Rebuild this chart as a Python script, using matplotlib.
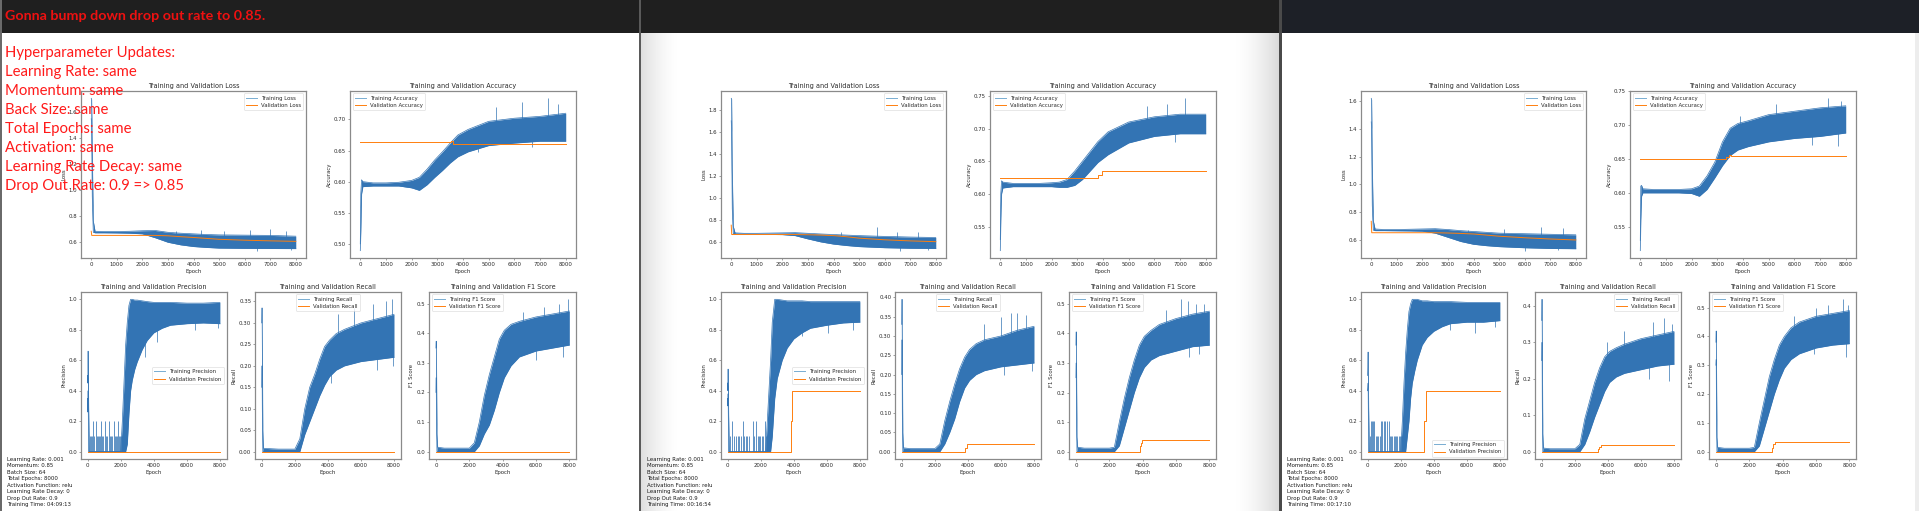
import numpy as np
import matplotlib
matplotlib.use("Agg")
import matplotlib.pyplot as plt
from matplotlib.lines import Line2D
from matplotlib.patches import Rectangle

# ---------------- data ----------------
EP_LOSS = [0, 15, 40, 80, 150, 500, 1000, 1500, 2000, 2500, 3000, 3500, 4000, 4500, 5000, 6000, 7000, 8000]
EP_VLOSS = [0, 20, 2500, 3000, 3500, 4000, 4500, 5000, 6000, 7000, 8000]
EP_ACC = [0, 20, 50, 100, 500, 1000, 1500, 2000, 2300, 2600, 2900, 3200, 3500, 3800, 4200, 5000, 6000, 7000, 8000]
EP_PREC = [0, 15, 30, 60, 100, 2000, 2100, 2200, 2300, 2400, 2500, 2600, 2700, 2850, 3000, 3300, 3600, 4000, 4500, 5000, 6000, 7000, 8000]
EP_REC = [0, 15, 30, 60, 100, 500, 1000, 1500, 2000, 2300, 2600, 2900, 3200, 3500, 3800, 4100, 4500, 5000, 6000, 7000, 8000]

# panel 1
p1_loss_lo = [1.55, 1.50, 0.95, 0.672, 0.668, 0.668, 0.667, 0.665, 0.660, 0.630, 0.595, 0.575, 0.562, 0.555, 0.550, 0.548, 0.547, 0.546]
p1_loss_hi = [1.707, 1.70, 1.30, 0.76, 0.680, 0.678, 0.678, 0.680, 0.684, 0.686, 0.672, 0.665, 0.660, 0.655, 0.652, 0.650, 0.648, 0.642]
p1_loss_sp_ep = [3300, 4300, 5200, 6200, 7000, 7600, 6500, 7800]
p1_loss_sp = [0.685, 0.69, 0.685, 0.69, 0.70, 0.685, 0.53, 0.532]
p1_vloss = [0.68, 0.648, 0.648, 0.645, 0.638, 0.632, 0.625, 0.618, 0.611, 0.606, 0.602]

p1_acc_lo = [0.489, 0.52, 0.58, 0.592, 0.593, 0.593, 0.593, 0.590, 0.586, 0.595, 0.607, 0.618, 0.630, 0.640, 0.648, 0.658, 0.662, 0.665, 0.665]
p1_acc_hi = [0.50, 0.58, 0.603, 0.600, 0.598, 0.598, 0.599, 0.602, 0.607, 0.620, 0.635, 0.648, 0.662, 0.675, 0.684, 0.697, 0.702, 0.705, 0.710]
p1_acc_sp_ep = [5300, 6300, 7300, 7700, 4600, 6700]
p1_acc_sp = [0.72, 0.728, 0.734, 0.725, 0.647, 0.655]
p1_vacc_ep = [0, 3550, 3600, 8000]
p1_vacc = [0.664, 0.666, 0.661, 0.661]

p1_prec_lo = [0.35, 0.26, 0.40, 0.0, 0.0, 0.0, 0.0, 0.0, 0.0, 0.05, 0.25, 0.40, 0.47, 0.54, 0.59, 0.67, 0.73, 0.78, 0.81, 0.83, 0.84, 0.845, 0.84]
p1_prec_hi = [0.50, 0.45, 0.66, 0.30, 0.0, 0.0, 0.2, 0.45, 0.70, 0.85, 0.96, 1.0, 1.0, 0.995, 0.995, 0.99, 0.985, 0.98, 0.98, 0.98, 0.975, 0.975, 0.98]
p1_prec_sp_ep = [3500, 4200, 6500, 7900]
p1_prec_sp = [0.62, 0.72, 0.80, 0.81]
p1_comb_ep = [120, 200, 260, 340, 400, 480, 540, 600, 700, 760, 835, 900, 960, 1040, 1100, 1180, 1280, 1340,
              1420, 1500, 1570, 1640, 1700, 1760, 1830, 1900, 1960, 2030]
p1_comb = [0.1, 0.1, 0.1, 0.2, 0.1, 0.2, 0.1, 0.1, 0.1, 0.1, 0.2, 0.1, 0.1, 0.2, 0.1, 0.1, 0.2, 0.1,
           0.1, 0.1, 0.2, 0.1, 0.1, 0.1, 0.2, 0.1, 0.1, 0.1]
p1_vprec_ep = [0, 8000]
p1_vprec = [0.0, 0.0]

p1_rec_lo = [0.15, 0.20, 0.10, 0.0, 0.0, 0.0, 0.0, 0.0, 0.0, 0.0, 0.04, 0.07, 0.10, 0.13, 0.155, 0.175, 0.19, 0.20, 0.21, 0.215, 0.22]
p1_rec_hi = [0.30, 0.335, 0.25, 0.05, 0.008, 0.007, 0.006, 0.006, 0.006, 0.03, 0.10, 0.15, 0.18, 0.215, 0.245, 0.26, 0.275, 0.285, 0.30, 0.31, 0.32]
p1_rec_sp_ep = [4600, 5600, 6700, 7500, 7900, 4200, 7000, 7950]
p1_rec_sp = [0.32, 0.335, 0.345, 0.35, 0.355, 0.16, 0.19, 0.20]
p1_vrec_ep = [0, 8000]
p1_vrec = [0.0, 0.0]

p1_f1_lo = [0.20, 0.25, 0.10, 0.0, 0.0, 0.0, 0.0, 0.0, 0.0, 0.0, 0.02, 0.06, 0.09, 0.14, 0.20, 0.25, 0.29, 0.32, 0.34, 0.35, 0.36]
p1_f1_hi = [0.35, 0.373, 0.30, 0.06, 0.015, 0.012, 0.012, 0.012, 0.012, 0.03, 0.10, 0.19, 0.26, 0.32, 0.38, 0.41, 0.43, 0.44, 0.455, 0.465, 0.475]
p1_f1_sp_ep = [5200, 6500, 7400, 7950, 6000, 7600]
p1_f1_sp = [0.47, 0.49, 0.50, 0.5145, 0.31, 0.32]
p1_vf1_ep = [0, 8000]
p1_vf1 = [0.0, 0.0]

# panel 2
p2_loss_lo = [1.70, 1.60, 0.90, 0.672, 0.668, 0.668, 0.667, 0.666, 0.664, 0.655, 0.625, 0.598, 0.578, 0.565, 0.555, 0.545, 0.540, 0.538]
p2_loss_hi = [1.904, 1.90, 1.25, 0.74, 0.680, 0.676, 0.676, 0.678, 0.680, 0.682, 0.676, 0.670, 0.665, 0.660, 0.655, 0.648, 0.642, 0.638]
p2_loss_sp_ep = [4300, 5700, 6500, 7300, 6600, 7700]
p2_loss_sp = [0.69, 0.736, 0.69, 0.685, 0.518, 0.525]
p2_vloss = [0.75, 0.665, 0.665, 0.663, 0.660, 0.655, 0.645, 0.632, 0.617, 0.607, 0.600]

p2_acc_lo = [0.513, 0.56, 0.60, 0.609, 0.611, 0.611, 0.611, 0.611, 0.610, 0.610, 0.613, 0.622, 0.635, 0.648, 0.660, 0.678, 0.688, 0.692, 0.692]
p2_acc_hi = [0.53, 0.60, 0.62, 0.618, 0.616, 0.616, 0.616, 0.617, 0.618, 0.622, 0.635, 0.650, 0.665, 0.680, 0.695, 0.710, 0.718, 0.722, 0.722]
p2_acc_sp_ep = [5700, 6500, 7200, 6800]
p2_acc_sp = [0.735, 0.738, 0.7463, 0.68]
p2_vacc_ep = [0, 3800, 3950, 8000]
p2_vacc = [0.624, 0.629, 0.635, 0.635]

p2_prec_lo = [0.35, 0.30, 0.38, 0.0, 0.0, 0.0, 0.0, 0.0, 0.0, 0.0, 0.0, 0.0, 0.10, 0.35, 0.48, 0.60, 0.68, 0.74, 0.78, 0.81, 0.83, 0.845, 0.85]
p2_prec_hi = [0.45, 0.40, 0.542, 0.25, 0.0, 0.0, 0.0, 0.0, 0.0, 0.20, 0.40, 0.60, 0.85, 1.0, 1.0, 0.995, 0.99, 0.99, 0.99, 0.985, 0.985, 0.985, 0.985]
p2_prec_sp_ep = [4500, 6100, 7600]
p2_prec_sp = [0.76, 0.78, 0.80]
p2_comb_ep = [120, 265, 410, 500, 600, 700, 783, 930, 1000, 1100, 1200, 1300, 1510, 1600, 1740, 1830,
              1900, 1980, 2050, 2130, 2240, 2320]
p2_comb = [0.1, 0.2, 0.1, 0.1, 0.1, 0.1, 0.1, 0.2, 0.1, 0.1, 0.1, 0.1, 0.2, 0.1, 0.2, 0.1,
           0.1, 0.1, 0.1, 0.1, 0.2, 0.1]
p2_vprec_ep = [0, 3850, 3900, 8000]
p2_vprec = [0.0, 0.2, 0.4, 0.4]

p2_rec_lo = [0.20, 0.29, 0.10, 0.0, 0.0, 0.0, 0.0, 0.0, 0.0, 0.0, 0.02, 0.05, 0.085, 0.13, 0.165, 0.185, 0.20, 0.21, 0.22, 0.225, 0.23]
p2_rec_hi = [0.33, 0.395, 0.25, 0.05, 0.010, 0.008, 0.008, 0.008, 0.008, 0.02, 0.08, 0.13, 0.175, 0.215, 0.245, 0.265, 0.28, 0.29, 0.30, 0.315, 0.325]
p2_rec_sp_ep = [5000, 6000, 6600, 7000, 7500, 6200, 7900]
p2_rec_sp = [0.33, 0.35, 0.36, 0.36, 0.355, 0.20, 0.21]
p2_vrec_ep = [0, 3850, 3950, 8000]
p2_vrec = [0.0, 0.01, 0.021, 0.021]

p2_f1_lo = [0.25, 0.30, 0.12, 0.0, 0.0, 0.0, 0.0, 0.0, 0.0, 0.0, 0.02, 0.08, 0.14, 0.20, 0.25, 0.285, 0.31, 0.325, 0.34, 0.355, 0.36]
p2_f1_hi = [0.36, 0.405, 0.30, 0.05, 0.015, 0.012, 0.012, 0.012, 0.012, 0.015, 0.10, 0.18, 0.25, 0.31, 0.36, 0.39, 0.41, 0.43, 0.45, 0.465, 0.475]
p2_f1_sp_ep = [5400, 6300, 6700, 7200, 7700, 6800, 7400]
p2_f1_sp = [0.48, 0.515, 0.51, 0.50, 0.50, 0.32, 0.33]
p2_vf1_ep = [0, 3820, 3900, 3980, 8000]
p2_vf1 = [0.0, 0.02, 0.03, 0.041, 0.041]

# panel 3
p3_loss_lo = [1.45, 1.40, 0.85, 0.672, 0.668, 0.668, 0.667, 0.666, 0.664, 0.650, 0.620, 0.590, 0.570, 0.560, 0.553, 0.545, 0.540, 0.538]
p3_loss_hi = [1.619, 1.61, 1.15, 0.74, 0.680, 0.676, 0.676, 0.678, 0.680, 0.682, 0.676, 0.668, 0.662, 0.656, 0.650, 0.646, 0.642, 0.638]
p3_loss_sp_ep = [3800, 5200, 6640, 7500, 6000, 7300]
p3_loss_sp = [0.67, 0.68, 0.696, 0.685, 0.524, 0.527]
p3_vloss = [0.735, 0.653, 0.653, 0.651, 0.648, 0.644, 0.636, 0.628, 0.617, 0.608, 0.601]

p3_acc_lo = [0.515, 0.56, 0.595, 0.600, 0.600, 0.600, 0.600, 0.599, 0.595, 0.605, 0.622, 0.640, 0.655, 0.663, 0.668, 0.675, 0.680, 0.683, 0.688]
p3_acc_hi = [0.53, 0.61, 0.611, 0.606, 0.605, 0.605, 0.605, 0.606, 0.610, 0.625, 0.645, 0.675, 0.695, 0.702, 0.706, 0.715, 0.720, 0.725, 0.728]
p3_acc_sp_ep = [3900, 5300, 7320, 7800, 6700, 7700]
p3_acc_sp = [0.713, 0.73, 0.739, 0.735, 0.67, 0.669]
p3_vacc_ep = [0, 3330, 3450, 3520, 8000]
p3_vacc = [0.650, 0.652, 0.656, 0.654, 0.654]

p3_prec_lo = [0.40, 0.42, 0.45, 0.0, 0.0, 0.0, 0.0, 0.0, 0.0, 0.10, 0.20, 0.35, 0.45, 0.53, 0.60, 0.70, 0.75, 0.79, 0.82, 0.84, 0.85, 0.85, 0.86]
p3_prec_hi = [0.50, 0.55, 0.654, 0.30, 0.0, 0.0, 0.2, 0.45, 0.65, 0.80, 0.92, 0.97, 1.0, 1.0, 1.0, 0.99, 0.99, 0.985, 0.985, 0.985, 0.98, 0.98, 0.98]
p3_prec_sp_ep = [5000, 6500, 7700]
p3_prec_sp = [0.80, 0.78, 0.82]
p3_comb_ep = [150, 200, 260, 330, 405, 480, 560, 640, 720, 820, 900, 980, 1060, 1150, 1280, 1350,
              1420, 1500, 1580, 1650, 1730, 1800, 1880, 1950, 2020]
p3_comb = [0.1, 0.2, 0.2, 0.2, 0.2, 0.1, 0.1, 0.1, 0.1, 0.2, 0.2, 0.2, 0.2, 0.2, 0.2, 0.1,
           0.1, 0.1, 0.1, 0.1, 0.1, 0.1, 0.1, 0.1, 0.1]
p3_vprec_ep = [0, 3420, 3560, 8000]
p3_vprec = [0.0, 0.2, 0.4, 0.4]

p3_rec_lo = [0.25, 0.30, 0.12, 0.0, 0.0, 0.0, 0.0, 0.0, 0.0, 0.0, 0.02, 0.055, 0.095, 0.13, 0.165, 0.19, 0.205, 0.215, 0.225, 0.235, 0.24]
p3_rec_hi = [0.36, 0.418, 0.28, 0.05, 0.010, 0.008, 0.008, 0.008, 0.008, 0.02, 0.09, 0.14, 0.19, 0.23, 0.26, 0.275, 0.285, 0.295, 0.31, 0.32, 0.33]
p3_rec_sp_ep = [3950, 5000, 6700, 7400, 7900, 6500, 7700]
p3_rec_sp = [0.30, 0.33, 0.355, 0.368, 0.35, 0.20, 0.195]
p3_vrec_ep = [0, 3380, 3480, 3560, 8000]
p3_vrec = [0.0, 0.008, 0.013, 0.0175, 0.0175]

p3_f1_lo = [0.30, 0.32, 0.12, 0.0, 0.0, 0.0, 0.0, 0.0, 0.0, 0.0, 0.02, 0.08, 0.14, 0.20, 0.25, 0.29, 0.32, 0.34, 0.36, 0.37, 0.375]
p3_f1_hi = [0.38, 0.419, 0.30, 0.05, 0.015, 0.012, 0.012, 0.012, 0.012, 0.015, 0.10, 0.18, 0.26, 0.32, 0.37, 0.40, 0.43, 0.45, 0.47, 0.48, 0.49]
p3_f1_sp_ep = [4700, 6000, 6700, 7600, 7900, 5900, 7800]
p3_f1_sp = [0.47, 0.50, 0.51, 0.529, 0.51, 0.34, 0.33]
p3_vf1_ep = [0, 3360, 3450, 3550, 8000]
p3_vf1 = [0.0, 0.012, 0.025, 0.0345, 0.0345]

XT_TOP = [0, 1000, 2000, 3000, 4000, 5000, 6000, 7000, 8000]
XT_BOT = [0, 2000, 4000, 6000, 8000]
YT_LOSS = [[0.6, 0.8, 1.0, 1.2, 1.4, 1.6], [0.6, 0.8, 1.0, 1.2, 1.4, 1.6, 1.8], [0.6, 0.8, 1.0, 1.2, 1.4, 1.6]]
YT_ACC = [[0.50, 0.55, 0.60, 0.65, 0.70], [0.55, 0.60, 0.65, 0.70, 0.75], [0.55, 0.60, 0.65, 0.70, 0.75]]
YT_PREC = [0.0, 0.2, 0.4, 0.6, 0.8, 1.0]
YT_REC = [[0.0, 0.05, 0.10, 0.15, 0.20, 0.25, 0.30, 0.35],
          [0.0, 0.05, 0.10, 0.15, 0.20, 0.25, 0.30, 0.35, 0.40],
          [0.0, 0.1, 0.2, 0.3, 0.4]]
YT_F1 = [0.0, 0.1, 0.2, 0.3, 0.4, 0.5]

TRAIN_TIMES = ["04:09:13", "00:16:54", "00:17:10"]
INFO_LINES = ["Learning Rate: 0.001", "Momentum: 0.85", "Batch Size: 64", "Total Epochs: 8000",
              "Activation Function: relu", "Learning Rate Decay: 0", "Drop Out Rate: 0.9", "Training Time: "]
RED_TITLE = "Gonna bump down drop out rate to 0.85."
RED_LINES = ["Hyperparameter Updates:", "Learning Rate: same", "Momentum: same", "Back Size: same",
             "Total Epochs: same", "Activation: same", "Learning Rate Decay: same", "Drop Out Rate: 0.9 => 0.85"]

# ---------------- styling ----------------
BLUE = "#3374b4"
BLUE_LEG = "#1f77b4"
ORANGE = "#ff7f0e"
TXT = "#2a2a2a"
plt.rcParams.update({
    "font.family": "DejaVu Sans",
    "font.size": 3.9,
    "axes.titlesize": 4.7,
    "axes.labelsize": 3.9,
    "xtick.labelsize": 3.9,
    "ytick.labelsize": 3.9,
    "legend.fontsize": 3.9,
    "axes.titlepad": 2.3,
    "axes.labelpad": 1.6,
    "xtick.major.size": 1.4,
    "ytick.major.size": 1.4,
    "xtick.major.pad": 1.4,
    "ytick.major.pad": 1.4,
    "xtick.major.width": 0.4,
    "ytick.major.width": 0.4,
    "axes.linewidth": 0.9,
    "axes.edgecolor": "#8a8a8a",
    "xtick.color": "#555555",
    "ytick.color": "#555555",
    "xtick.labelcolor": TXT,
    "ytick.labelcolor": TXT,
    "axes.labelcolor": TXT,
    "text.color": TXT,
    "patch.linewidth": 0.4,
    "legend.edgecolor": "0.8",
})

W, H = 1919, 511
fig = plt.figure(figsize=(W / 100, H / 100), dpi=100)
fig.patch.set_facecolor("white")

# background: window chrome
bg = fig.add_axes([0, 0, 1, 1], zorder=-5)
bg.set_xlim(0, W)
bg.set_ylim(H, 0)
bg.axis("off")
bg.add_patch(Rectangle((0, 0), 1280, 33, color="#1f1f1f", lw=0))
bg.add_patch(Rectangle((1280, 0), W - 1280, 33, color="#1d2027", lw=0))
# shadows
ramp = np.linspace(1, 0, 64)[None, :]
shade = np.zeros((1, 64, 4))
shade[..., :3] = 0.55
shade[..., 3] = 0.28 * ramp ** 1.6
bg.imshow(shade, extent=(641, 680, 511, 33), aspect="auto", interpolation="bilinear")
shade2 = shade[:, ::-1, :].copy()
shade2[..., 3] = 0.33 * ramp[:, ::-1] ** 1.8
bg.imshow(shade2, extent=(1232, 1279, 511, 33), aspect="auto", interpolation="bilinear")
bg.set_xlim(0, W)
bg.set_ylim(H, 0)
bg.add_patch(Rectangle((0, 0), 1.6, H, color="#6a6a6a", lw=0))
bg.add_patch(Rectangle((639, 0), 2, H, color="#5a5a5a", lw=0))
bg.add_patch(Rectangle((1279, 0), 3, H, color="#4a4a4a", lw=0))
bg.add_patch(Rectangle((1915, 33), 4, H - 33, color="#ededed", lw=0))


def px_axes(L, R, T, B):
    return fig.add_axes([L / W, 1 - B / H, (R - L) / W, (B - T) / H])


def metric(ax, ep, lo, hi, sp_ep, sp, vep, vval, vstep, title, ylabel, names, loc, xt, yt,
           comb_ep=None, comb=None):
    ax.fill_between(ep, lo, hi, color=BLUE, lw=0)
    ax.plot(ep, lo, color=BLUE, lw=0.5)
    ax.plot(ep, hi, color=BLUE, lw=0.5)
    mid = (np.interp(sp_ep, ep, lo) + np.interp(sp_ep, ep, hi)) / 2
    ax.vlines(sp_ep, mid, sp, color=BLUE, lw=0.5)
    if comb_ep is not None:
        ax.vlines(comb_ep, 0, comb, color=BLUE, lw=0.55)
        ax.plot([0, 2400], [0, 0], color=BLUE, lw=0.6)
    ax.plot(vep, vval, color=ORANGE, lw=0.7, drawstyle="steps-post" if vstep else "default")
    ax.set_title(title, color=TXT)
    ax.set_xlabel("Epoch")
    ax.set_ylabel(ylabel)
    ax.set_xticks(xt)
    ax.set_yticks(yt)
    handles = [Line2D([], [], color=BLUE_LEG, alpha=0.6, lw=0.7), Line2D([], [], color=ORANGE, lw=0.7)]
    ax.legend(handles, ["Training " + names, "Validation " + names], loc=loc)


PANELS = [
    dict(loss=(p1_loss_lo, p1_loss_hi, p1_loss_sp_ep, p1_loss_sp, p1_vloss),
         acc=(p1_acc_lo, p1_acc_hi, p1_acc_sp_ep, p1_acc_sp, p1_vacc_ep, p1_vacc),
         prec=(p1_prec_lo, p1_prec_hi, p1_prec_sp_ep, p1_prec_sp, p1_vprec_ep, p1_vprec, p1_comb_ep, p1_comb),
         rec=(p1_rec_lo, p1_rec_hi, p1_rec_sp_ep, p1_rec_sp, p1_vrec_ep, p1_vrec),
         f1=(p1_f1_lo, p1_f1_hi, p1_f1_sp_ep, p1_f1_sp, p1_vf1_ep, p1_vf1),
         locs=("center right", "upper center")),
    dict(loss=(p2_loss_lo, p2_loss_hi, p2_loss_sp_ep, p2_loss_sp, p2_vloss),
         acc=(p2_acc_lo, p2_acc_hi, p2_acc_sp_ep, p2_acc_sp, p2_vacc_ep, p2_vacc),
         prec=(p2_prec_lo, p2_prec_hi, p2_prec_sp_ep, p2_prec_sp, p2_vprec_ep, p2_vprec, p2_comb_ep, p2_comb),
         rec=(p2_rec_lo, p2_rec_hi, p2_rec_sp_ep, p2_rec_sp, p2_vrec_ep, p2_vrec),
         f1=(p2_f1_lo, p2_f1_hi, p2_f1_sp_ep, p2_f1_sp, p2_vf1_ep, p2_vf1),
         locs=("center right", "upper center")),
    dict(loss=(p3_loss_lo, p3_loss_hi, p3_loss_sp_ep, p3_loss_sp, p3_vloss),
         acc=(p3_acc_lo, p3_acc_hi, p3_acc_sp_ep, p3_acc_sp, p3_vacc_ep, p3_vacc),
         prec=(p3_prec_lo, p3_prec_hi, p3_prec_sp_ep, p3_prec_sp, p3_vprec_ep, p3_vprec, p3_comb_ep, p3_comb),
         rec=(p3_rec_lo, p3_rec_hi, p3_rec_sp_ep, p3_rec_sp, p3_vrec_ep, p3_vrec),
         f1=(p3_f1_lo, p3_f1_hi, p3_f1_sp_ep, p3_f1_sp, p3_vf1_ep, p3_vf1),
         locs=("lower right", "upper right")),
]

for i, P in enumerate(PANELS):
    o = 640 * i
    ax = px_axes(81 + o, 306 + o, 90.7, 258.3)
    lo, hi, se, sv, vv = P["loss"]
    metric(ax, EP_LOSS, lo, hi, se, sv, EP_VLOSS, vv, False, "Training and Validation Loss", "Loss",
           "Loss", "upper right", XT_TOP, YT_LOSS[i])

    ax = px_axes(350 + o, 576 + o, 90.7, 258.3)
    lo, hi, se, sv, ve, vv = P["acc"]
    metric(ax, EP_ACC, lo, hi, se, sv, ve, vv, True, "Training and Validation Accuracy", "Accuracy",
           "Accuracy", "upper left", XT_TOP, YT_ACC[i])

    ax = px_axes(81 + o, 226.5 + o, 291.7, 459.3)
    lo, hi, se, sv, ve, vv, ce, cv = P["prec"]
    metric(ax, EP_PREC, lo, hi, se, sv, ve, vv, True, "Training and Validation Precision", "Precision",
           "Precision", P["locs"][0], XT_BOT, YT_PREC, ce, cv)

    ax = px_axes(255.2 + o, 400.6 + o, 291.7, 459.3)
    lo, hi, se, sv, ve, vv = P["rec"]
    metric(ax, EP_REC, lo, hi, se, sv, ve, vv, True, "Training and Validation Recall", "Recall",
           "Recall", P["locs"][1], XT_BOT, YT_REC[i])

    ax = px_axes(429.3 + o, 576 + o, 291.7, 459.3)
    lo, hi, se, sv, ve, vv = P["f1"]
    metric(ax, EP_REC, lo, hi, se, sv, ve, vv, True, "Training and Validation F1 Score", "F1 Score",
           "F1 Score", "upper left", XT_BOT, YT_F1)

    for k, line in enumerate(INFO_LINES):
        s = line + (TRAIN_TIMES[i] if k == len(INFO_LINES) - 1 else "")
        fig.text((7.4 + o) / W, 1 - (459.5 + 6.43 * k) / H, s, fontsize=3.9, color="#1a1a1a",
                 ha="left", va="center")

# red annotation text (fit widths to screenshot)
renderer = fig.canvas.get_renderer()


def fitted(x, y, s, target_w, **kw):
    t = fig.text(x / W, 1 - y / H, s, fontsize=10, zorder=50, **kw)
    w = t.get_window_extent(renderer).width
    return t, 10 * target_w / w


t, fs = fitted(5, 20, RED_TITLE, 260, family="Lato", weight="bold", color="#ee1111", va="baseline")
t.set_fontsize(fs)
t0, fs_body = fitted(5, 57.3, RED_LINES[6], 176, family="Lato", color="#ff1a1a", va="baseline")
t0.remove()
for k, line in enumerate(RED_LINES):
    fig.text(5 / W, 1 - (57.3 + 19 * k) / H, line, fontsize=fs_body, family="Lato", color="#ff1a1a",
             va="baseline", zorder=50)

fig.savefig("out.png", dpi=100, facecolor="white")
